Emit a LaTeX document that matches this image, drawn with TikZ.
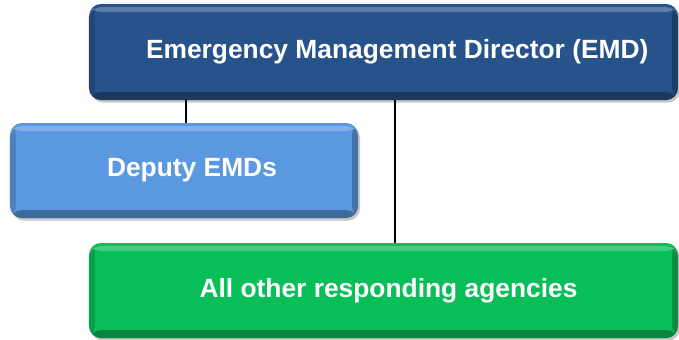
\documentclass[tikz,border=0pt]{standalone}
\usepackage{fontspec}
\setmainfont{Liberation Sans}
\usepackage{tikz}
\usetikzlibrary{shadows}

\definecolor{emdblue}{RGB}{40,82,138}
\definecolor{deputyblue}{RGB}{90,152,224}
\definecolor{agencygreen}{RGB}{8,190,88}

\begin{document}
\begin{tikzpicture}[x=0.2mm, y=-0.2mm,
  level/.style={rectangle, rounded corners=0.24cm, draw=none, fill=#1,
    text=white, font=\fontsize{15}{18}\selectfont\bfseries,
    drop shadow={shadow xshift=0.04cm, shadow yshift=-0.05cm, opacity=0.45},
    path picture={
      \fill[white, opacity=0.25] ([yshift=-0.06cm]path picture bounding box.north west)
        rectangle ([yshift=-0.16cm]path picture bounding box.north east);
      \fill[black, opacity=0.3] (path picture bounding box.south west)
        rectangle ([yshift=0.16cm]path picture bounding box.south east);
      \fill[black, opacity=0.15] (path picture bounding box.south west)
        rectangle ([xshift=0.12cm]path picture bounding box.north west);
      \fill[black, opacity=0.25] (path picture bounding box.south east)
        rectangle ([xshift=-0.12cm]path picture bounding box.north east);
    }},
  link/.style={line width=1.6pt}]
\useasboundingbox (0,0) rectangle (679,339);

\node[level=emdblue, minimum width=11.78cm, minimum height=1.92cm] (emd) at (383.5,52)
  {\hspace*{0.55cm}Emergency Management Director (EMD)};
\node[level=deputyblue, minimum width=6.96cm, minimum height=1.9cm] (deputy) at (184,170.5)
  {\hspace*{0.32cm}Deputy EMDs};
\node[level=agencygreen, minimum width=11.78cm, minimum height=1.9cm] (agencies) at (383.5,290.5)
  {\hspace*{0.2cm}All other responding agencies};

\draw[link]  ([xshift=0.04cm]deputy.north) -- ([xshift=0.04cm]deputy.north |- emd.south);
\draw[link]  ([xshift=0.23cm]agencies.north) -- ([xshift=0.23cm]agencies.north |- emd.south);
\end{tikzpicture}
\end{document}
